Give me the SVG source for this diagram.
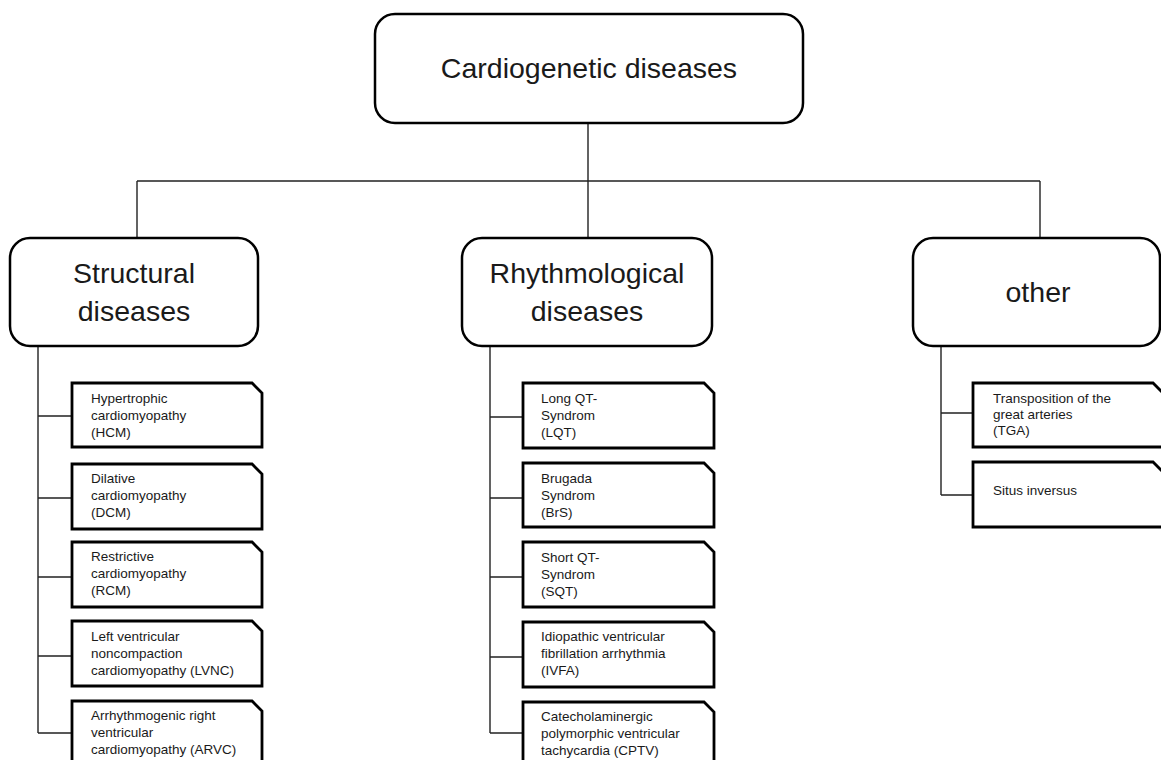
<svg xmlns="http://www.w3.org/2000/svg" width="1161" height="760" viewBox="0 0 1161 760">
<style>
.big{fill:#fff;stroke:#000;stroke-width:2.5}
.small{fill:#fff;stroke:#000;stroke-width:2.8}
.con{fill:none;stroke:#222;stroke-width:1.4}
.bt{font-family:"Liberation Sans",Arial,sans-serif;font-size:28.5px;fill:#1a1a1a;text-anchor:middle}
.st{font-family:"Liberation Sans",Arial,sans-serif;font-size:13.5px;fill:#1a1a1a}
</style>
<rect width="1161" height="760" fill="#fff"/>
<g id="connectors">
<path class="con" d="M588 123V238M137 181H1040M137 181V238M1040 181V238"/>
<path class="con" d="M38 346V733M38 416H72M38 498H72M38 577H72M38 656H72M38 733H72"/>
<path class="con" d="M490 346V733M490 417H523M490 498H523M490 577H523M490 657H523M490 733H523"/>
<path class="con" d="M941 346V495M941 413H973M941 495H973"/>
</g>
<g id="root">
<rect class="big" x="375" y="14" width="428" height="109" rx="20"/>
<text class="bt" x="589" y="78">Cardiogenetic diseases</text>
</g>
<g id="structural">
<rect class="big" x="10" y="238" width="248" height="108" rx="20"/>
<text class="bt" x="134" y="283">Structural</text>
<text class="bt" x="134" y="321">diseases</text>
</g>
<g id="rhythmological">
<rect class="big" x="462" y="238" width="250" height="108" rx="20"/>
<text class="bt" x="587" y="283">Rhythmological</text>
<text class="bt" x="587" y="321">diseases</text>
</g>
<g id="other">
<rect class="big" x="913" y="238" width="247" height="108" rx="20"/>
<text class="bt" x="1038" y="302">other</text>
</g>
<g id="hcm">
<path class="small" d="M72 383H252L262 393V447H72Z"/>
<text class="st" x="91" y="403">Hypertrophic</text>
<text class="st" x="91" y="420">cardiomyopathy</text>
<text class="st" x="91" y="437">(HCM)</text>
</g>
<g id="dcm">
<path class="small" d="M72 464H252L262 474V529H72Z"/>
<text class="st" x="91" y="483">Dilative</text>
<text class="st" x="91" y="500">cardiomyopathy</text>
<text class="st" x="91" y="517">(DCM)</text>
</g>
<g id="rcm">
<path class="small" d="M72 542H252L262 552V607H72Z"/>
<text class="st" x="91" y="561">Restrictive</text>
<text class="st" x="91" y="578">cardiomyopathy</text>
<text class="st" x="91" y="595">(RCM)</text>
</g>
<g id="lvnc">
<path class="small" d="M72 621H252L262 631V686H72Z"/>
<text class="st" x="91" y="641">Left ventricular</text>
<text class="st" x="91" y="658">noncompaction</text>
<text class="st" x="91" y="675">cardiomyopathy (LVNC)</text>
</g>
<g id="arvc">
<path class="small" d="M72 701H252L262 711V766H72Z"/>
<text class="st" x="91" y="720">Arrhythmogenic right</text>
<text class="st" x="91" y="737">ventricular</text>
<text class="st" x="91" y="754">cardiomyopathy (ARVC)</text>
</g>
<g id="lqt">
<path class="small" d="M523 383H704L714 393V448H523Z"/>
<text class="st" x="541" y="403">Long QT-</text>
<text class="st" x="541" y="420">Syndrom</text>
<text class="st" x="541" y="437">(LQT)</text>
</g>
<g id="brs">
<path class="small" d="M523 463H704L714 473V527H523Z"/>
<text class="st" x="541" y="483">Brugada</text>
<text class="st" x="541" y="500">Syndrom</text>
<text class="st" x="541" y="517">(BrS)</text>
</g>
<g id="sqt">
<path class="small" d="M523 542H704L714 552V607H523Z"/>
<text class="st" x="541" y="562">Short QT-</text>
<text class="st" x="541" y="579">Syndrom</text>
<text class="st" x="541" y="596">(SQT)</text>
</g>
<g id="ivfa">
<path class="small" d="M523 622H704L714 632V687H523Z"/>
<text class="st" x="541" y="641">Idiopathic ventricular</text>
<text class="st" x="541" y="658">fibrillation arrhythmia</text>
<text class="st" x="541" y="675">(IVFA)</text>
</g>
<g id="cptv">
<path class="small" d="M523 702H704L714 712V767H523Z"/>
<text class="st" x="541" y="721">Catecholaminergic</text>
<text class="st" x="541" y="738">polymorphic ventricular</text>
<text class="st" x="541" y="755">tachycardia (CPTV)</text>
</g>
<g id="tga">
<path class="small" d="M973 383H1153L1163 393V447H973Z"/>
<text class="st" x="993" y="403">Transposition of the</text>
<text class="st" x="993" y="419">great arteries</text>
<text class="st" x="993" y="435">(TGA)</text>
</g>
<g id="situs">
<path class="small" d="M973 462H1153L1163 472V527H973Z"/>
<text class="st" x="993" y="495">Situs inversus</text>
</g>
</svg>
